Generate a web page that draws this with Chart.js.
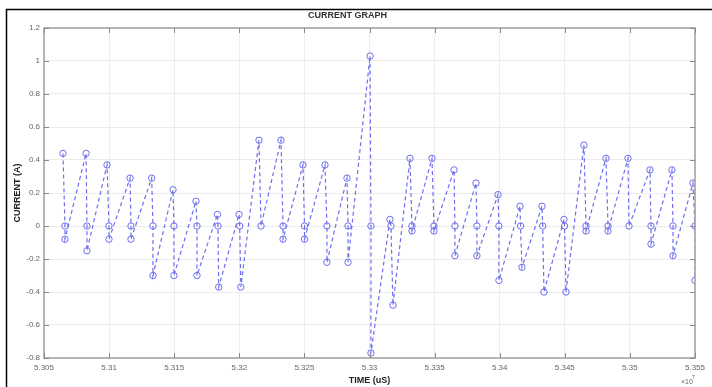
<!DOCTYPE html>
<html>
<head>
<meta charset="utf-8">
<script src="https://cdn.jsdelivr.net/npm/chart.js@4.4.1/dist/chart.umd.min.js"></script>
<style>
html,body{margin:0;padding:0;background:#fff;}
canvas{display:block;}
</style>
</head>
<body>
<canvas id="c" width="712" height="387"></canvas>
<script>
// TIME in units of 10^7 uS
const timeE7 = [
  5.30646, 5.30661, 5.30661,
  5.30823, 5.30830, 5.30830,
  5.30984, 5.30999, 5.30999,
  5.31161, 5.31168, 5.31168,
  5.31327, 5.31337, 5.31337,
  5.31491, 5.31498, 5.31498,
  5.31667, 5.31675, 5.31675,
  5.31832, 5.31836, 5.31842,
  5.31998, 5.32003, 5.32012,
  5.32151, 5.32167,
  5.32320, 5.32336, 5.32336,
  5.32489, 5.32501, 5.32501,
  5.32658, 5.32673, 5.32673,
  5.32827, 5.32835, 5.32835,
  5.33004, 5.33011, 5.33011,
  5.33157, 5.33165, 5.33180,
  5.33311, 5.33326, 5.33326,
  5.33480, 5.33495, 5.33495,
  5.33649, 5.33656, 5.33656,
  5.33818, 5.33825, 5.33825,
  5.33987, 5.33994, 5.33994,
  5.34156, 5.34160, 5.34171,
  5.34325, 5.34330, 5.34340,
  5.34494, 5.34498, 5.34509,
  5.34647, 5.34663, 5.34663,
  5.34816, 5.34832, 5.34832,
  5.34985, 5.34993,
  5.35154, 5.35162, 5.35162,
  5.35323, 5.35331, 5.35331,
  5.35484, 5.35500, 5.35500
];
// CURRENT (A)
const current = [
  0.44, 0, -0.08,
  0.44, 0, -0.15,
  0.37, 0, -0.08,
  0.29, 0, -0.08,
  0.29, 0, -0.30,
  0.22, 0, -0.30,
  0.15, 0, -0.30,
  0.07, 0, -0.37,
  0.07, 0, -0.37,
  0.52, 0,
  0.52, 0, -0.08,
  0.37, 0, -0.08,
  0.37, 0, -0.22,
  0.29, 0, -0.22,
  1.03, 0, -0.77,
  0.04, 0, -0.48,
  0.41, 0, -0.03,
  0.41, 0, -0.03,
  0.34, 0, -0.18,
  0.26, 0, -0.18,
  0.19, 0, -0.33,
  0.12, 0, -0.25,
  0.12, 0, -0.40,
  0.04, 0, -0.40,
  0.49, 0, -0.03,
  0.41, 0, -0.03,
  0.41, 0,
  0.34, 0, -0.11,
  0.34, 0, -0.18,
  0.26, 0, -0.33
];
const xTicks = [5.305, 5.31, 5.315, 5.32, 5.325, 5.33, 5.335, 5.34, 5.345, 5.35, 5.355];
const yTicks = [-0.8, -0.6, -0.4, -0.2, 0, 0.2, 0.4, 0.6, 0.8, 1, 1.2];

const points = timeE7.map((t, i) => ({x: t, y: current[i]}));
const FONT = "'Liberation Sans', Arial, Helvetica, sans-serif";
const AXIS = '#a0a0a0';
const LINE = '#6e6ef0';

const decor = {
  id: 'decor',
  beforeDraw(chart) {
    const ctx = chart.ctx;
    ctx.save();
    ctx.fillStyle = '#fff';
    ctx.fillRect(0, 0, chart.width, chart.height);
    ctx.restore();
  },
  afterDraw(chart) {
    const ctx = chart.ctx;
    const a = chart.chartArea;
    const xs = chart.scales.x, ys = chart.scales.y;
    ctx.save();
    // axes box
    ctx.strokeStyle = AXIS;
    ctx.lineWidth = 1.5;
    ctx.strokeRect(a.left, a.top, a.right - a.left, a.bottom - a.top);
    // inward ticks
    ctx.lineWidth = 1;
    ctx.strokeStyle = '#8a8a8a';
    ctx.beginPath();
    xTicks.forEach(v => {
      const px = Math.round(xs.getPixelForValue(v)) + 0.5;
      ctx.moveTo(px, a.bottom); ctx.lineTo(px, a.bottom - 5);
      ctx.moveTo(px, a.top); ctx.lineTo(px, a.top + 5);
    });
    yTicks.forEach(v => {
      const py = Math.round(ys.getPixelForValue(v)) + 0.5;
      ctx.moveTo(a.left, py); ctx.lineTo(a.left + 5, py);
      ctx.moveTo(a.right, py); ctx.lineTo(a.right - 5, py);
    });
    ctx.stroke();
    // frame lines
    ctx.strokeStyle = '#000';
    ctx.lineWidth = 1.5;
    ctx.beginPath();
    ctx.moveTo(6, 9.5); ctx.lineTo(712, 9.5);
    ctx.moveTo(6.5, 9); ctx.lineTo(6.5, 387);
    ctx.stroke();
    // exponent label
    ctx.fillStyle = '#666';
    ctx.font = '7px ' + FONT;
    ctx.textBaseline = 'alphabetic';
    ctx.fillText('\u00d710', 681, 384);
    ctx.font = '5px ' + FONT;
    ctx.fillText('7', 692, 379);
    ctx.restore();
  }
};

const fmt = v => String(Number(Number(v).toFixed(3)));

new Chart(document.getElementById('c'), {
  type: 'line',
  data: {
    datasets: [{
      data: points,
      borderColor: LINE,
      borderWidth: 1.2,
      borderDash: [4, 3],
      pointRadius: 3.2,
      pointStyle: 'circle',
      pointBorderColor: LINE,
      pointBorderWidth: 1,
      pointBackgroundColor: 'rgba(0,0,0,0)',
      fill: false,
      tension: 0
    }]
  },
  options: {
    responsive: false,
    animation: false,
    devicePixelRatio: 1,
    layout: {padding: {left: 0, right: 17, top: 0, bottom: 0}},
    plugins: {
      legend: {display: false},
      tooltip: {enabled: false},
      title: {
        display: true,
        text: 'CURRENT GRAPH',
        color: '#333',
        font: {family: FONT, size: 9, weight: 'bold', lineHeight: 1.2},
        padding: {top: 10, bottom: 7.2}
      }
    },
    scales: {
      x: {
        type: 'linear',
        min: 5.305,
        max: 5.355,
        afterBuildTicks: s => { s.ticks = xTicks.map(v => ({value: v})); },
        afterFit: s => { s.height = 29; s.paddingLeft = 0; s.paddingRight = 0; },
        ticks: {
          callback: v => fmt(v),
          color: '#666',
          font: {family: FONT, size: 8},
          padding: 5,
          maxRotation: 0,
          autoSkip: false
        },
        grid: {color: '#ececec', lineWidth: 1, drawTicks: false},
        border: {display: false},
        title: {
          display: true,
          text: 'TIME (uS)',
          color: '#222',
          font: {family: FONT, size: 9, weight: 'bold', lineHeight: 1.2},
          padding: {top: 0, bottom: 0.6}
        }
      },
      y: {
        type: 'linear',
        min: -0.8,
        max: 1.2,
        afterBuildTicks: s => { s.ticks = yTicks.map(v => ({value: v})); },
        afterFit: s => { s.width = 44; s.paddingTop = 0; s.paddingBottom = 0; },
        ticks: {
          callback: v => fmt(v),
          color: '#666',
          font: {family: FONT, size: 8},
          padding: 4,
          autoSkip: false
        },
        grid: {color: '#ececec', lineWidth: 1, drawTicks: false},
        border: {display: false},
        title: {
          display: true,
          text: 'CURRENT (A)',
          color: '#222',
          font: {family: FONT, size: 9, weight: 'bold', lineHeight: 1.2},
          padding: {top: 12.6, bottom: 0}
        }
      }
    }
  },
  plugins: [decor]
});
</script>
</body>
</html>
